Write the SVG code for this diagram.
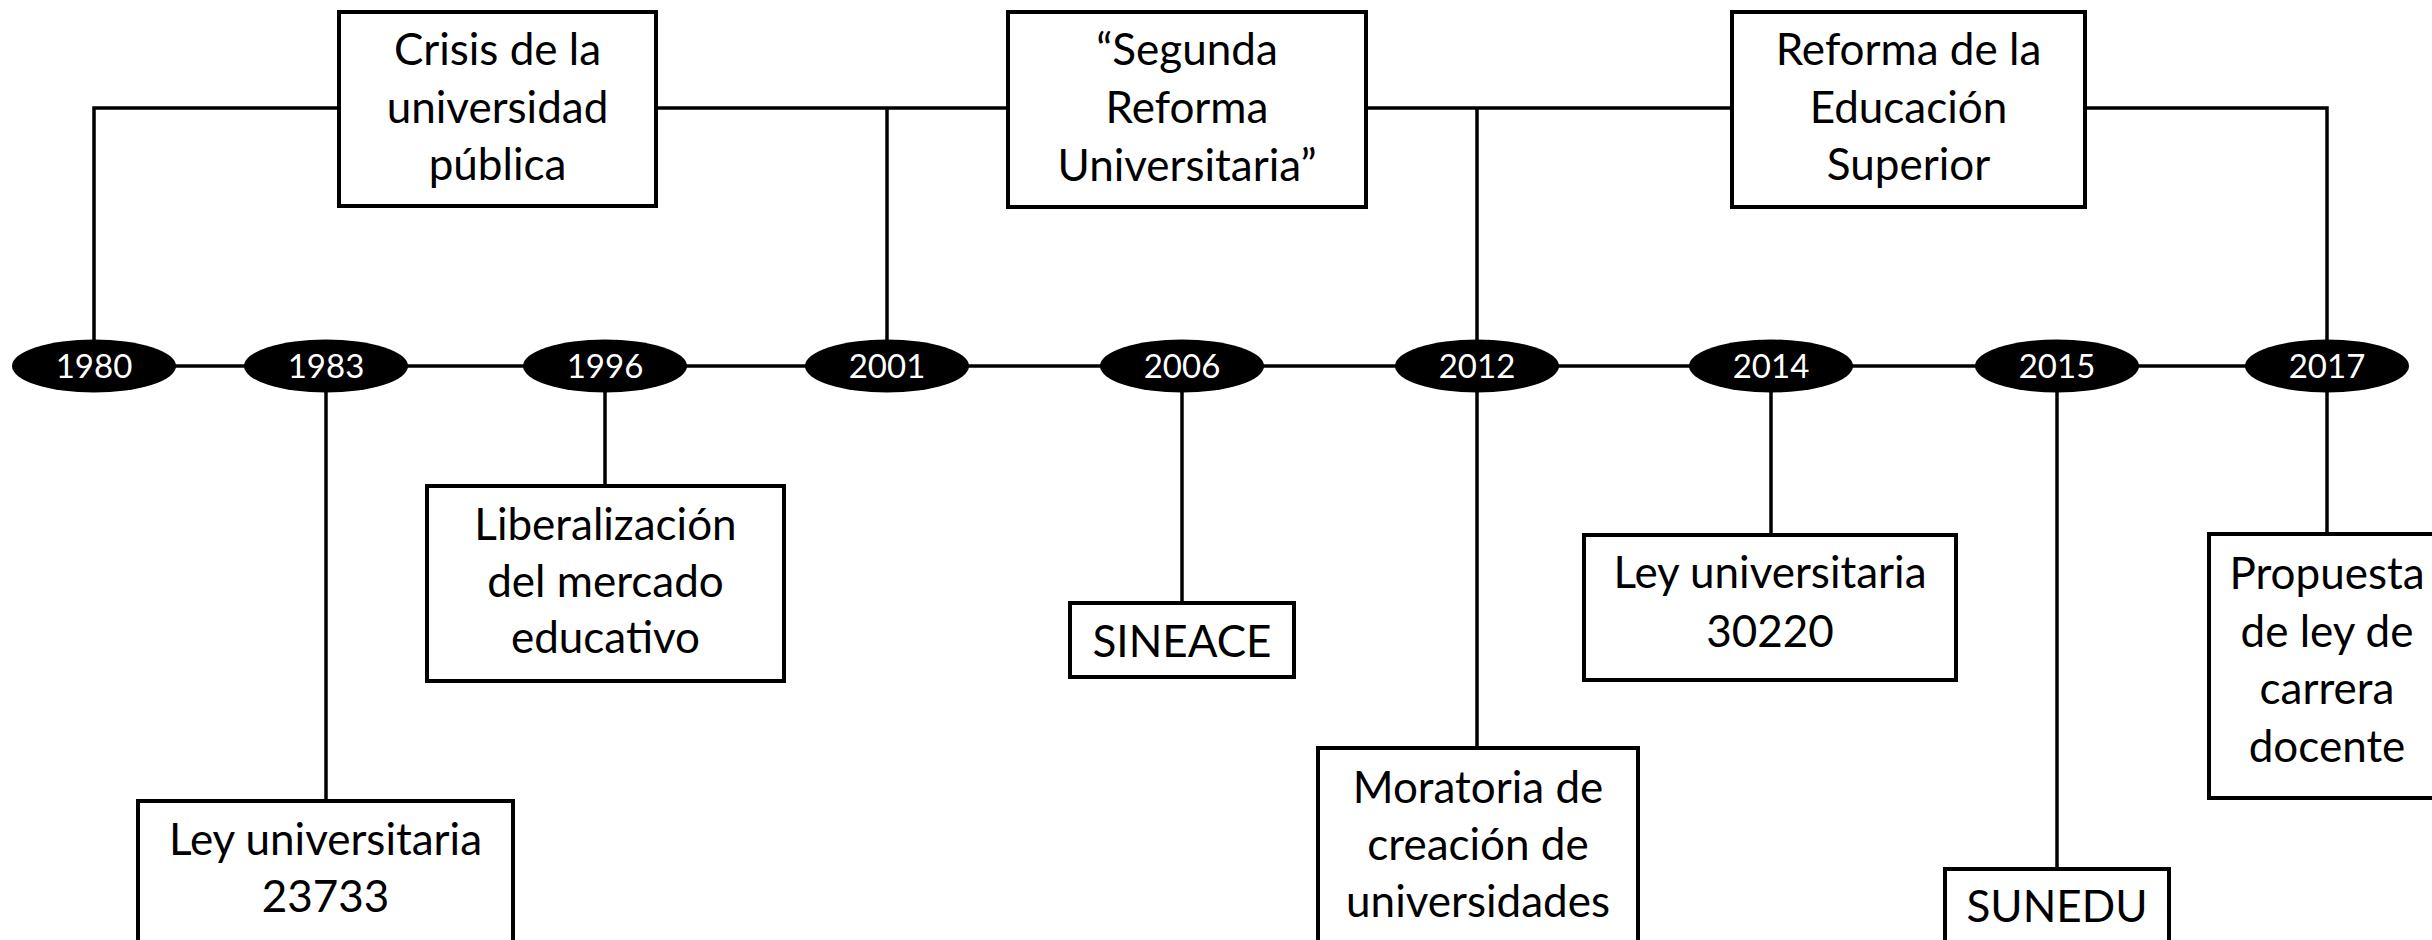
<svg xmlns="http://www.w3.org/2000/svg" width="2432" height="940" viewBox="0 0 2432 940">
<style>
.box{fill:#fff;stroke:#000;stroke-width:4}
.ln{fill:none;stroke:#000;stroke-width:3.5}
.yr{fill:#000;stroke:none}
.t{font-family:Lato,"Liberation Sans",sans-serif;font-size:44px;fill:#000;text-anchor:middle}
.y{font-family:Lato,"Liberation Sans",sans-serif;font-size:33px;fill:#fff;text-anchor:middle}
</style>
<rect width="2432" height="940" fill="#fff"/>
<g id="connectors">
<polyline class="ln" points="94,366 94,108 339,108"/>
<line class="ln" x1="656" y1="108" x2="1008" y2="108"/>
<line class="ln" x1="887" y1="108" x2="887" y2="366"/>
<line class="ln" x1="1366" y1="108" x2="1732" y2="108"/>
<line class="ln" x1="1477" y1="108" x2="1477" y2="366"/>
<polyline class="ln" points="2085,108 2327,108 2327,366"/>
<line class="ln" x1="94" y1="366" x2="2327" y2="366"/>
<line class="ln" x1="326" y1="366" x2="326" y2="801"/>
<line class="ln" x1="605" y1="366" x2="605" y2="486"/>
<line class="ln" x1="1182" y1="366" x2="1182" y2="603"/>
<line class="ln" x1="1477" y1="366" x2="1477" y2="748"/>
<line class="ln" x1="1771" y1="366" x2="1771" y2="535"/>
<line class="ln" x1="2057" y1="366" x2="2057" y2="869"/>
<line class="ln" x1="2327" y1="366" x2="2327" y2="534"/>
</g>
<g id="y1980"><ellipse class="yr" cx="94" cy="366" rx="82" ry="26.5"/><text class="y" x="94" y="378">1980</text></g>
<g id="y1983"><ellipse class="yr" cx="326" cy="366" rx="82" ry="26.5"/><text class="y" x="326" y="378">1983</text></g>
<g id="y1996"><ellipse class="yr" cx="605" cy="366" rx="82" ry="26.5"/><text class="y" x="605" y="378">1996</text></g>
<g id="y2001"><ellipse class="yr" cx="887" cy="366" rx="82" ry="26.5"/><text class="y" x="887" y="378">2001</text></g>
<g id="y2006"><ellipse class="yr" cx="1182" cy="366" rx="82" ry="26.5"/><text class="y" x="1182" y="378">2006</text></g>
<g id="y2012"><ellipse class="yr" cx="1477" cy="366" rx="82" ry="26.5"/><text class="y" x="1477" y="378">2012</text></g>
<g id="y2014"><ellipse class="yr" cx="1771" cy="366" rx="82" ry="26.5"/><text class="y" x="1771" y="378">2014</text></g>
<g id="y2015"><ellipse class="yr" cx="2057" cy="366" rx="82" ry="26.5"/><text class="y" x="2057" y="378">2015</text></g>
<g id="y2017"><ellipse class="yr" cx="2327" cy="366" rx="82" ry="26.5"/><text class="y" x="2327" y="378">2017</text></g>
<g id="crisis"><rect class="box" x="339" y="12" width="317" height="194"/>
<text class="t" x="497.5" y="65">Crisis de la</text><text class="t" x="497.5" y="123">universidad</text><text class="t" x="497.5" y="180">pública</text></g>
<g id="segunda"><rect class="box" x="1008" y="12" width="358" height="195"/>
<text class="t" x="1187" y="65">“Segunda</text><text class="t" x="1187" y="123">Reforma</text><text class="t" x="1187" y="181">Universitaria”</text></g>
<g id="reforma"><rect class="box" x="1732" y="12" width="353" height="195"/>
<text class="t" x="1908.5" y="65">Reforma de la</text><text class="t" x="1908.5" y="123">Educación</text><text class="t" x="1908.5" y="180">Superior</text></g>
<g id="ley23733"><rect class="box" x="138" y="801" width="375" height="160"/>
<text class="t" x="325.5" y="855">Ley universitaria</text><text class="t" x="325.5" y="912">23733</text></g>
<g id="liberalizacion"><rect class="box" x="427" y="486" width="357" height="195"/>
<text class="t" x="605.5" y="540">Liberalización</text><text class="t" x="605.5" y="597">del mercado</text><text class="t" x="605.5" y="653">educativo</text></g>
<g id="sineace"><rect class="box" x="1070" y="603" width="224" height="74"/>
<text class="t" x="1182" y="657">SINEACE</text></g>
<g id="moratoria"><rect class="box" x="1318" y="748" width="320" height="220"/>
<text class="t" x="1478" y="803">Moratoria de</text><text class="t" x="1478" y="860">creación de</text><text class="t" x="1478" y="917">universidades</text></g>
<g id="ley30220"><rect class="box" x="1584" y="535" width="372" height="145"/>
<text class="t" x="1770" y="588">Ley universitaria</text><text class="t" x="1770" y="647">30220</text></g>
<g id="sunedu"><rect class="box" x="1945" y="869" width="224" height="100"/>
<text class="t" x="2057" y="922">SUNEDU</text></g>
<g id="propuesta"><rect class="box" x="2209" y="534" width="240" height="264"/>
<text class="t" x="2327" y="589">Propuesta</text><text class="t" x="2327" y="647">de ley de</text><text class="t" x="2327" y="704">carrera</text><text class="t" x="2327" y="762">docente</text></g>
</svg>
